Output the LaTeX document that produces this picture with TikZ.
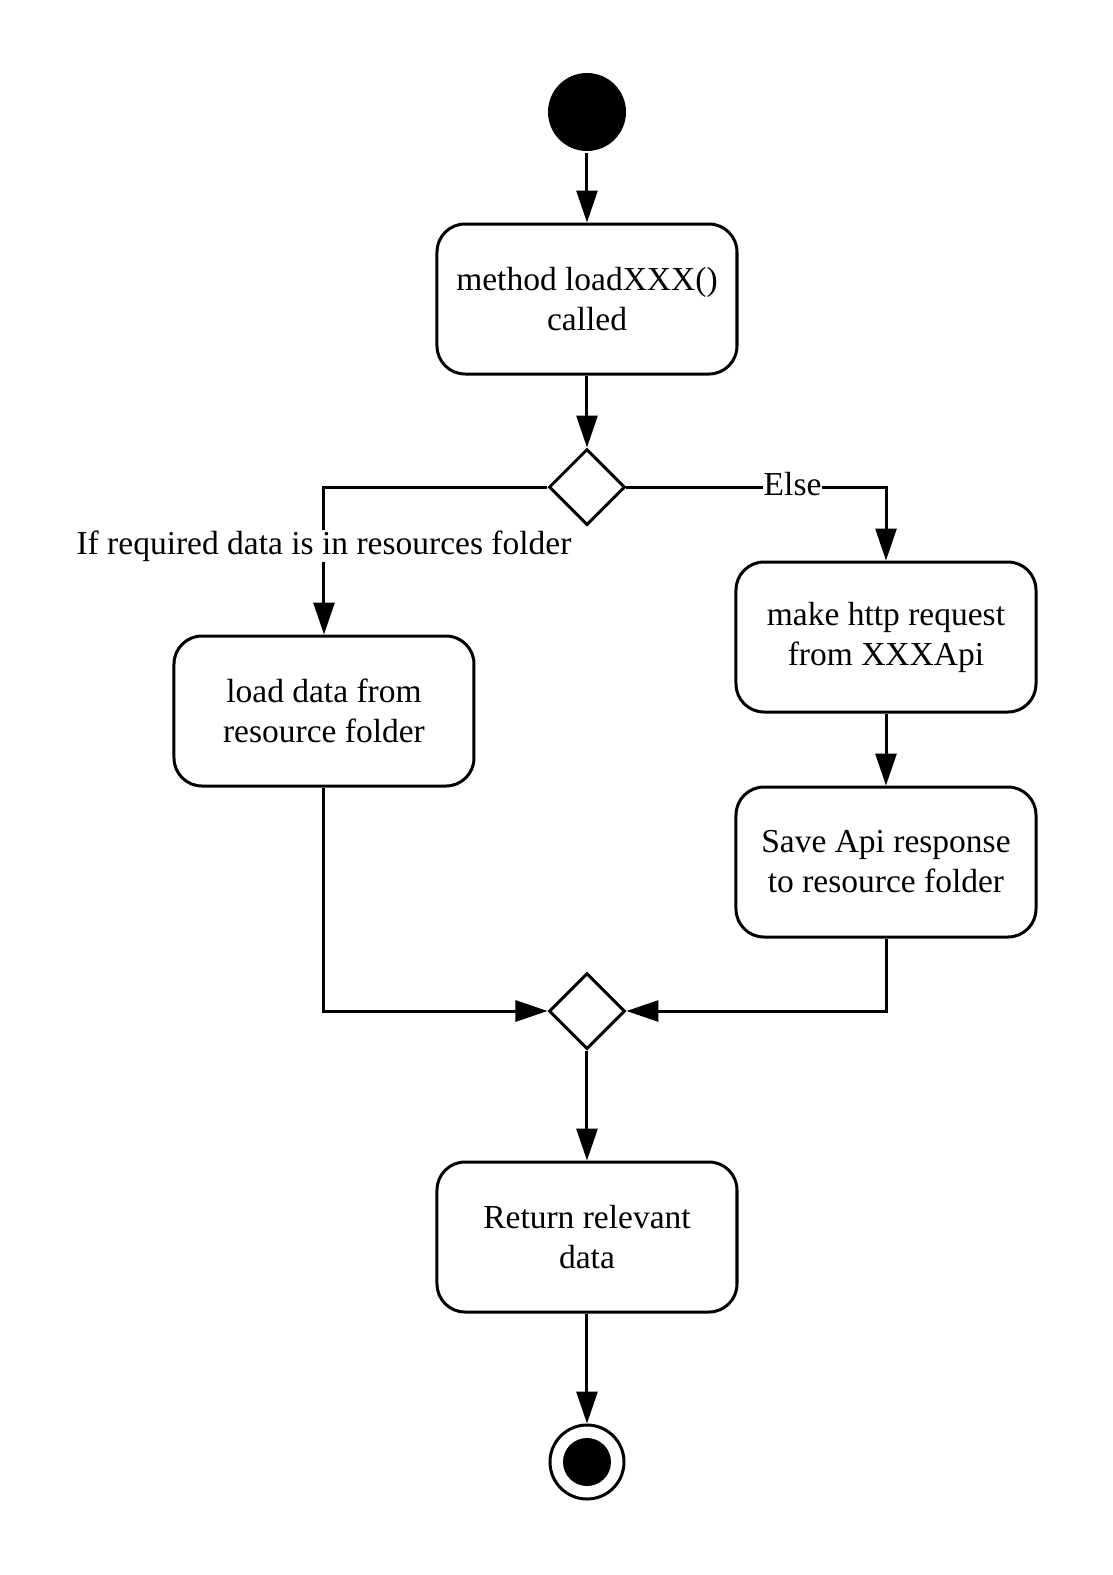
\documentclass[tikz,border=0pt]{standalone}
\usepackage{fontspec}
\setmainfont{Liberation Serif}
\usetikzlibrary{arrows.meta,positioning,shapes.geometric}

\begin{document}
\begin{tikzpicture}[line width=3pt,on grid,auto,
  >={Triangle[length=32pt,width=21pt]},
  act/.style={draw,rounded corners=28pt,minimum width=300pt,minimum height=150pt,
    align=center,font=\fontsize{33.5}{40}\selectfont},
  decision/.style={draw,diamond,minimum size=76pt,inner sep=0pt},
  initial/.style={circle,fill,minimum size=78pt,inner sep=0pt},
  final/.style={circle,draw,minimum size=74pt,inner sep=0pt},
  lbl/.style={anchor=center,fill=white,inner sep=1pt,font=\fontsize{33.5}{40}\selectfont}]
\useasboundingbox (-587pt,112pt) rectangle (525pt,-1463pt);
\node[initial] (start) {};
\node[act] (call) [below=187pt of start] {method loadXXX()\\called};
\node[decision] (D1) [below=188pt of call] {};
\node[act] (load) [below left=224pt and 263pt of D1] {load data from\\resource folder};
\node[act] (http) [below right=150pt and 299pt of D1] {make http request\\from XXXApi};
\node[act] (save) [below=225pt of http] {Save Api response\\to resource folder};
\node[decision] (D2) [below=524pt of D1] {};
\node[act] (ret) [below=226pt of D2] {Return relevant\\data};
\node[final] (stop) [below=225pt of ret] {};
\fill (stop) circle (24pt);
\path[->]
(start) edge (call)
(call) edge (D1)
(http) edge (save)
(D2) edge (ret)
(ret) edge (stop);
\draw[->] (D1.west) -| node[lbl,pos=0.70] {If required data is in resources folder} (load.north);
\draw[->] (D1.east) -| node[lbl,pos=0.32,yshift=3pt] {Else} (http.north);
\draw[->] (load.south) |- (D2.west);
\draw[->] (save.south) |- (D2.east);
\end{tikzpicture}
\end{document}
